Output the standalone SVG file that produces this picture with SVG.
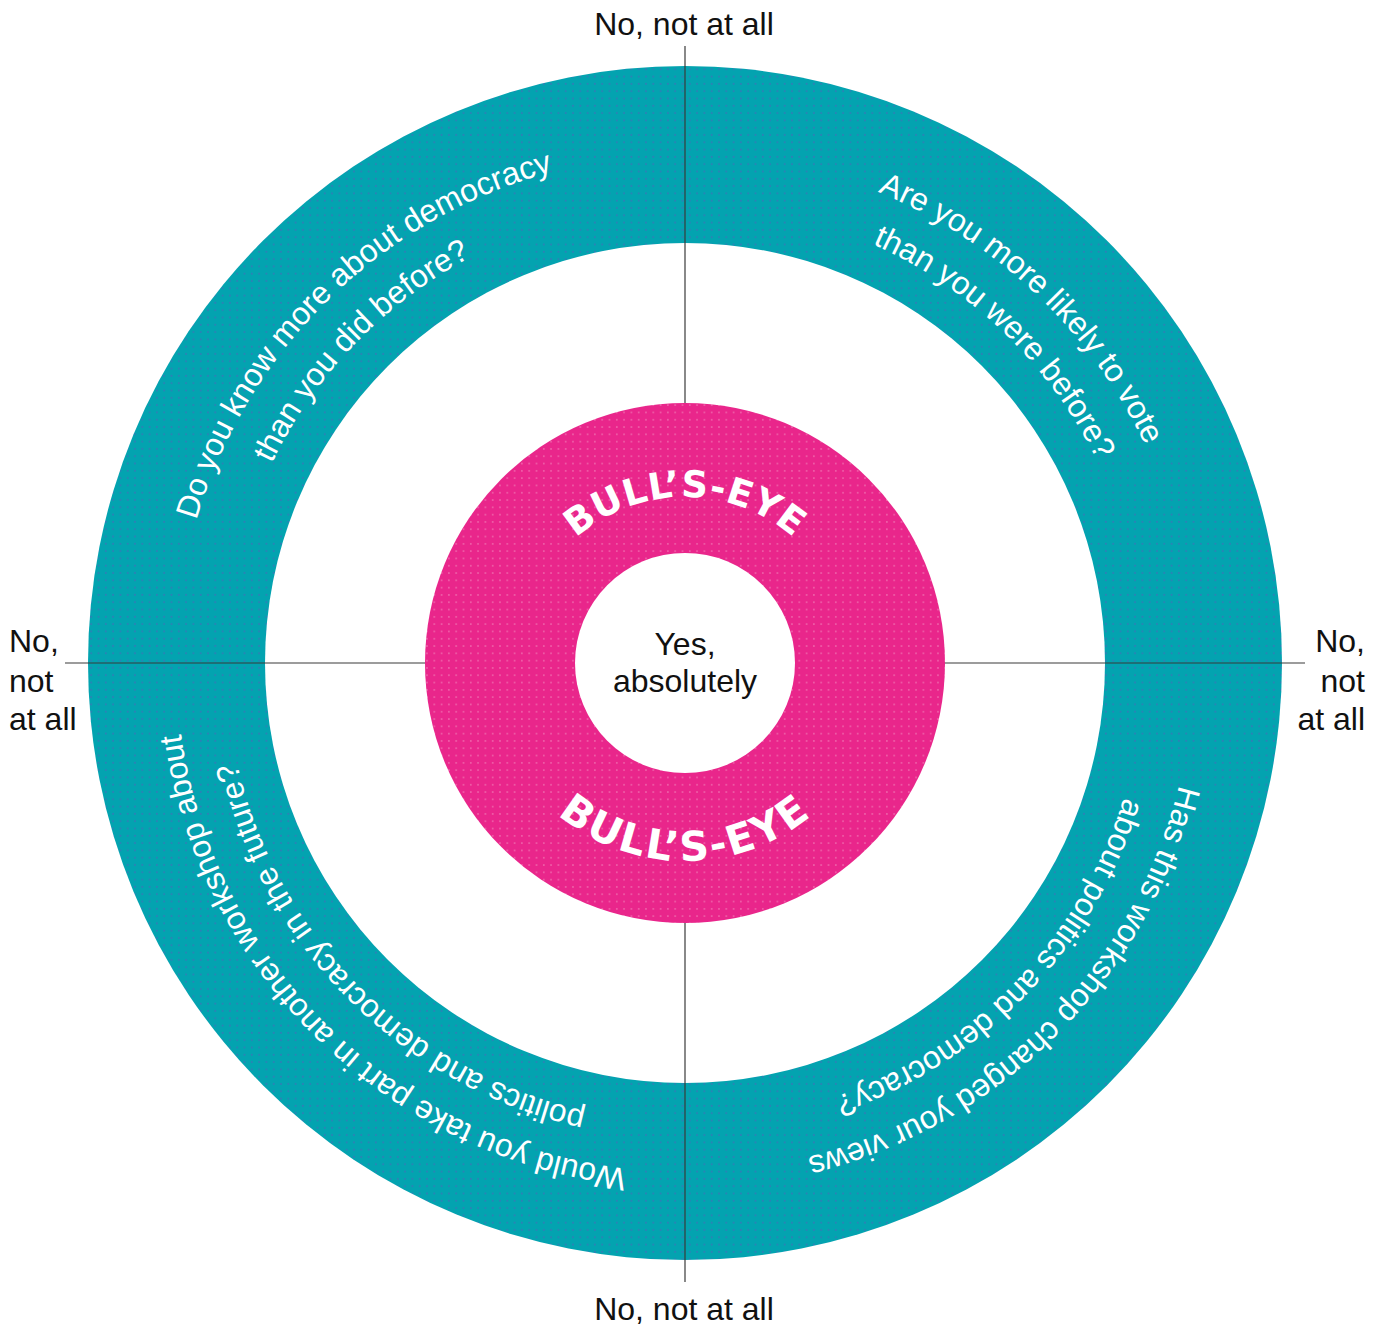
<svg xmlns="http://www.w3.org/2000/svg" width="1385" height="1330" viewBox="0 0 1385 1330">
  <style>
    .lbl { font-family: "Liberation Sans", Arial, sans-serif; font-size: 32px; fill: #111; }
    .q { font-family: "Liberation Sans", Arial, sans-serif; font-size: 32px; fill: #ffffff; }
    .be { font-family: "DejaVu Sans", "Liberation Sans", sans-serif; font-weight: bold; fill: #ffffff; }
    .axis { stroke: #3a3a3a; stroke-width: 1.2; fill: none; }
  </style>
  <defs>
    <pattern id="tealDots" width="7.3" height="7.3" patternUnits="userSpaceOnUse">
      <rect width="7.3" height="7.3" fill="#03a3b0"/>
      <circle cx="3.6" cy="3.6" r="1" fill="#2f7fb6"/>
    </pattern>
    <pattern id="pinkDots" width="7.3" height="7.3" patternUnits="userSpaceOnUse">
      <rect width="7.3" height="7.3" fill="#e9268b"/>
      <circle cx="3.6" cy="3.6" r="0.9" fill="#f066ac"/>
    </pattern>
    <path id="ringOuter" d="M 1194 663 A 509 509 0 1 1 176 663 A 509 509 0 1 1 1194 663"/>
    <path id="ringInner" d="M 1144 663 A 459 459 0 1 1 226 663 A 459 459 0 1 1 1144 663"/>
    <path id="beTop" d="M 519 663 A 166 166 0 0 1 851 663"/>
    <path id="beBottom" d="M 487 663 A 198 198 0 0 0 883 663"/>
  </defs>

  <g id="outer-ring">
    <circle cx="685" cy="663" r="597" fill="url(#tealDots)"/>
    <circle cx="685" cy="663" r="420" fill="#ffffff"/>
  </g>

  <g id="connectors">
    <line class="axis" x1="685" y1="46" x2="685" y2="1282"/>
    <line class="axis" x1="65" y1="663" x2="1305" y2="663"/>
  </g>

  <g id="bullseye-ring">
    <circle cx="685" cy="663" r="260" fill="url(#pinkDots)"/>
    <text class="be" font-size="37" letter-spacing="0.8" text-anchor="middle"><textPath href="#beTop" startOffset="50%">BULL’S-EYE</textPath></text>
    <text class="be" font-size="41" letter-spacing="2.2" text-anchor="middle"><textPath href="#beBottom" startOffset="50%">BULL’S-EYE</textPath></text>
  </g>

  <g id="center">
    <circle cx="685" cy="663" r="110" fill="#ffffff"/>
    <text class="lbl" x="685" y="655" text-anchor="middle">Yes,</text>
    <text class="lbl" x="685" y="692" text-anchor="middle">absolutely</text>
  </g>

  <g id="q-top-left">
    <text class="q" text-anchor="middle"><textPath href="#ringOuter" startOffset="62.67%">Do you know more about democracy</textPath></text>
    <text class="q" text-anchor="middle"><textPath href="#ringInner" startOffset="62.22%">than you did before?</textPath></text>
  </g>
  <g id="q-top-right">
    <text class="q" text-anchor="middle"><textPath href="#ringOuter" startOffset="87.08%">Are you more likely to vote</textPath></text>
    <text class="q" text-anchor="middle"><textPath href="#ringInner" startOffset="87.22%">than you were before?</textPath></text>
  </g>
  <g id="q-bottom-right">
    <text class="q" text-anchor="middle"><textPath href="#ringOuter" startOffset="12.5%">Has this workshop changed your views</textPath></text>
    <text class="q" text-anchor="middle"><textPath href="#ringInner" startOffset="12.22%">about politics and democracy?</textPath></text>
  </g>
  <g id="q-bottom-left">
    <text class="q" text-anchor="middle"><textPath href="#ringOuter" startOffset="37.3%">Would you take part in another workshop about</textPath></text>
    <text class="q" text-anchor="middle"><textPath href="#ringInner" startOffset="37.5%">politics and democracy in the future?</textPath></text>
  </g>

  <g id="label-top">
    <text class="lbl" x="684" y="35" text-anchor="middle">No, not at all</text>
  </g>
  <g id="label-bottom">
    <text class="lbl" x="684" y="1320" text-anchor="middle">No, not at all</text>
  </g>
  <g id="label-left">
    <text class="lbl" x="9" y="652">No,</text>
    <text class="lbl" x="9" y="692">not</text>
    <text class="lbl" x="9" y="730">at all</text>
  </g>
  <g id="label-right">
    <text class="lbl" x="1365" y="652" text-anchor="end">No,</text>
    <text class="lbl" x="1365" y="692" text-anchor="end">not</text>
    <text class="lbl" x="1365" y="730" text-anchor="end">at all</text>
  </g>
</svg>
